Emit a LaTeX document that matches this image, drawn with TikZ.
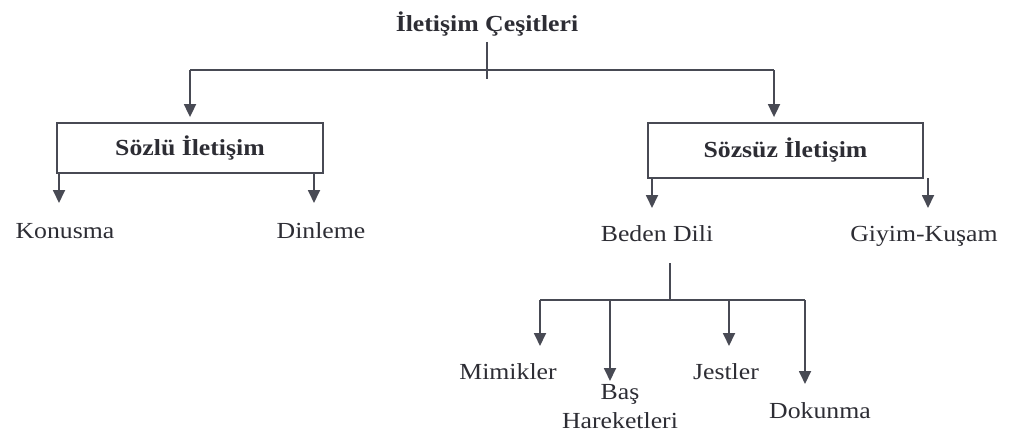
\documentclass[tikz,border=0pt]{standalone}
\usepackage{fontspec}
\setmainfont{Liberation Serif}[FakeStretch=1.12]
\usetikzlibrary{arrows.meta}
\definecolor{ink}{RGB}{72,74,84}
\definecolor{txt}{RGB}{45,45,52}
\begin{document}
\begin{tikzpicture}[x=1pt,y=-1pt,
  lbl/.style={inner sep=0pt, anchor=base, text=txt, font=\fontsize{23}{29}\selectfont},
  ttl/.style={lbl, font=\fontsize{23}{29}\selectfont\bfseries},
  boxn/.style={draw=ink, line width=1.8pt, text=txt, inner sep=0pt, font=\fontsize{23}{29}\selectfont\bfseries},
  ln/.style={draw=ink, line width=1.8pt},
  arr/.style={ln, -{Triangle[length=13pt,width=12pt]}},
]
\useasboundingbox (0,0) rectangle (1011,434);

% title
\node[ttl] (t) at (487,31) {İletişim Çeşitleri};
\coordinate (tb) at (487,79);
\coordinate (hl) at (190,70);
\coordinate (hr) at (774,70);

% boxes
\node[boxn, minimum width=266pt, minimum height=50pt] (s1) at (190,148) {Sözlü İletişim};
\node[boxn, minimum width=275pt, minimum height=55pt] (s2) at (785.5,150.5) {Sözsüz İletişim};

\draw[ln] (t.south) ++(0,6) -- (tb);
\draw[ln] (hl) -- (hr);
\draw[arr, shorten >=5pt] (hl) -- (hl |- s1.north);
\draw[arr, shorten >=5pt] (hr) -- (hr |- s2.north);

% level 2 labels
\node[lbl] (k) at (65,238) {Konusma};
\node[lbl] (d) at (321,238) {Dinleme};
\node[lbl] (b) at (657,241) {Beden Dili};
\node[lbl] (g) at (924,241) {Giyim-Kuşam};

\coordinate (k1) at (59,173);  \coordinate (k2) at (59,203);
\coordinate (d1) at (314,173); \coordinate (d2) at (314,203);
\coordinate (b1) at (652,178); \coordinate (b2) at (652,208);
\coordinate (g1) at (928,178); \coordinate (g2) at (928,208);
\draw[arr] (k1) -- (k2);
\draw[arr] (d1) -- (d2);
\draw[arr] (b1) -- (b2);
\draw[arr] (g1) -- (g2);

% body language subtree
\coordinate (bt) at (670,263);
\coordinate (bj) at (670,300);
\coordinate (jl) at (540,300);
\coordinate (jr) at (805,300);
\draw[ln] (bt) -- (bj);
\draw[ln] (jl) -- (jr);

\node[lbl] (m) at (508,379) {Mimikler};
\node[inner sep=0pt, text=txt, align=center, font=\fontsize{23}{29}\selectfont] (h) at (620,407) {Baş\\Hareketleri};
\node[lbl] (j) at (726,379) {Jestler};
\node[lbl] (dk) at (820,418) {Dokunma};

\coordinate (mt) at (540,346);
\coordinate (ht) at (610,381);
\coordinate (jt) at (729,346);
\coordinate (dt) at (805,384);
\coordinate (hs) at (610,300);
\coordinate (js) at (729,300);
\draw[arr] (jl) -- (mt);
\draw[arr] (hs) -- (ht);
\draw[arr] (js) -- (jt);
\draw[arr] (jr) -- (dt);
\end{tikzpicture}
\end{document}
